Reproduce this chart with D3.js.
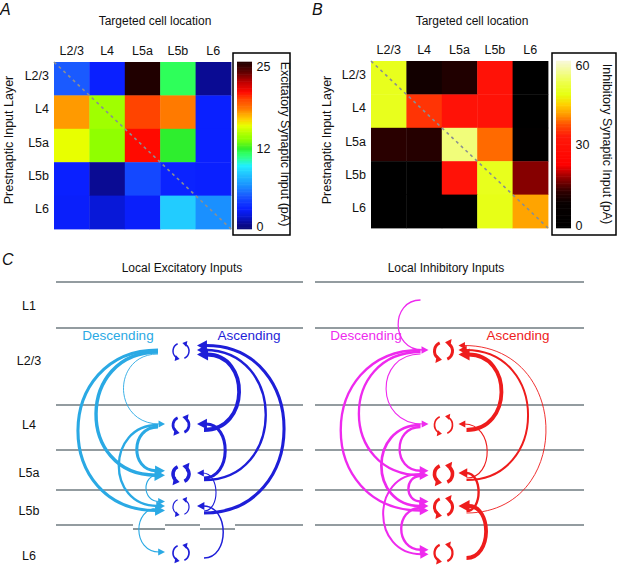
<!DOCTYPE html>
<html><head><meta charset="utf-8">
<script src="https://cdn.jsdelivr.net/npm/d3@7"></script>
<style>
body{margin:0;background:#fff}
svg{display:block}
text{font-family:"Liberation Sans",Arial,Helvetica,sans-serif;fill:#111}
</style>
</head><body>
<svg id="chart" width="618" height="566"></svg>
<script>
// ---------------- DATA ----------------
const layers = ["L2/3", "L4", "L5a", "L5b", "L6"];
// rows = presynaptic input layer, columns = targeted cell location (pA)
const excValues = [
  [5.0, 3.0, 25.0, 11.5, 0.8],
  [17.5, 14.0, 19.5, 18.0, 3.0],
  [15.5, 13.5, 20.5, 12.0, 3.0],
  [3.0, 0.8, 4.5, 3.1, 3.0],
  [2.9, 2.0, 2.9, 8.5, 6.5]
];
const inhValues = [
  [49, 10, 11.5, 30, 0],
  [49, 35, 30, 30, 0],
  [12.5, 12, 55, 38.5, 2],
  [0, 0, 30, 49, 17.5],
  [0, 0, 0, 48.5, 41.5]
];
const excTicks = [0, 12, 25];
const inhTicks = [0, 30, 60];

// Panel C: schematic connections (strength in relative units 1-5)
const cLayers = ["L1", "L2/3", "L4", "L5a", "L5b", "L6"];
const excDescending = [
  {from: "L2/3", to: "L4", s: 1},
  {from: "L2/3", to: "L5a", s: 4.5},
  {from: "L2/3", to: "L5b", s: 4},
  {from: "L4", to: "L5a", s: 4},
  {from: "L4", to: "L5b", s: 3},
  {from: "L5a", to: "L5b", s: 1.3},
  {from: "L5b", to: "L6", s: 1.3}
];
const excAscending = [
  {from: "L4", to: "L2/3", s: 5},
  {from: "L5a", to: "L2/3", s: 3},
  {from: "L5b", to: "L2/3", s: 4},
  {from: "L5a", to: "L4", s: 4},
  {from: "L5b", to: "L5a", s: 1.3},
  {from: "L6", to: "L5b", s: 1.8}
];
const inhDescending = [
  {from: "L1", to: "L2/3", s: 1.5},
  {from: "L2/3", to: "L4", s: 1.3},
  {from: "L2/3", to: "L5a", s: 3},
  {from: "L2/3", to: "L5b", s: 3},
  {from: "L4", to: "L5a", s: 3},
  {from: "L4", to: "L5b", s: 3.5},
  {from: "L5a", to: "L5b", s: 3},
  {from: "L5a", to: "L6", s: 2.5},
  {from: "L5b", to: "L6", s: 3}
];
const inhAscending = [
  {from: "L4", to: "L2/3", s: 5},
  {from: "L5a", to: "L2/3", s: 2.5},
  {from: "L5b", to: "L2/3", s: 1},
  {from: "L5a", to: "L4", s: 1.3},
  {from: "L5b", to: "L5a", s: 3},
  {from: "L6", to: "L5b", s: 5}
];

// ---------------- SETUP ----------------
const svg = d3.select("#chart");
svg.append("rect").attr("width", 618).attr("height", 566).attr("fill", "#fff");

// colour maps
const excStops = [0, 0.03, 0.08, 0.12, 0.18, 0.2, 0.26, 0.34, 0.38, 0.43, 0.46, 0.48, 0.54, 0.56, 0.62, 0.66, 0.70, 0.72, 0.78, 0.82, 0.88, 0.94, 1];
const excCols = ["#0a0a78", "#0a0a90", "#0818d8", "#0a20ff", "#1448ff", "#1a5aff", "#1a90ff", "#22ccff", "#20f0ff", "#2eff8a", "#2eff5a", "#2eee2e", "#90ff00", "#a0ff00", "#e8ff00", "#ffcc00", "#ff9a00", "#ff7a00", "#ff4400", "#ff0a00", "#c00000", "#600000", "#200000"];
const excColor = d3.scaleLinear().domain(excStops.map(t => t * 25)).range(excCols).interpolate(d3.interpolateRgb).clamp(true);

const inhStops = [0, 0.15, 0.22, 0.3, 0.38, 0.55, 0.62, 0.68, 0.74, 0.8, 0.88, 1];
const inhCols = ["#000000", "#080000", "#300000", "#900000", "#ff0000", "#ff1a0a", "#ff5000", "#ff9900", "#ffd000", "#e6ff10", "#eeff50", "#f8f8d8"];
const inhColor = d3.scaleLinear().domain(inhStops.map(t => t * 60)).range(inhCols).interpolate(d3.interpolateRgb).clamp(true);

// ---------------- PANELS A & B ----------------
function heatmap(p) {
  const g = svg.append("g");
  const x = d3.scaleBand().domain(layers).range([p.x0, p.x1]);
  const y = d3.scaleBand().domain(layers).range([p.y0, p.y1]);
  const cells = [];
  p.values.forEach((row, i) => row.forEach((v, j) => cells.push({r: layers[i], c: layers[j], v})));
  g.selectAll("rect.cell").data(cells).join("rect").attr("class", "cell")
    .attr("x", d => x(d.c)).attr("y", d => y(d.r))
    .attr("width", x.bandwidth() + 0.4).attr("height", y.bandwidth() + 0.4)
    .attr("fill", d => p.color(d.v));
  g.append("line").attr("x1", p.x0).attr("y1", p.y0).attr("x2", p.x1).attr("y2", p.y1)
    .attr("stroke", "#8a8f92").attr("stroke-width", 1.6).attr("stroke-dasharray", "3,3.5");
  g.selectAll("text.col").data(layers).join("text").attr("class", "col")
    .attr("x", d => x(d) + x.bandwidth() / 2).attr("y", p.y0 - 7)
    .attr("text-anchor", "middle").attr("font-size", 12.5).text(d => d);
  g.selectAll("text.row").data(layers).join("text").attr("class", "row")
    .attr("x", p.x0 - 5).attr("y", d => y(d) + y.bandwidth() / 2 + 1)
    .attr("text-anchor", "end").attr("font-size", 12.5).text(d => d);
  g.append("text").attr("x", (p.x0 + p.x1) / 2 + 12.5).attr("y", 25)
    .attr("text-anchor", "middle").attr("font-size", 12).text("Targeted cell location");
  g.append("text").attr("transform", `translate(${p.ylabX},140) rotate(-90)`)
    .attr("text-anchor", "middle").attr("font-size", 12.5).text("Prestnaptic Input Layer");
  g.append("text").attr("x", p.letterX).attr("y", 15).attr("font-size", 16)
    .attr("font-style", "italic").text(p.letter);
  // colour bar
  const cb = d3.scaleLinear().domain([0, p.max]).range([p.y1, p.y0]);
  g.append("rect").attr("x", p.boxX0).attr("y", 53).attr("width", p.boxX1 - p.boxX0).attr("height", 182)
    .attr("fill", "none").attr("stroke", "#000").attr("stroke-width", 1.5);
  const steps = d3.range(0, 120).map(i => p.max * (i + 0.5) / 120);
  const sh = (p.y1 - p.y0) / 120;
  g.selectAll("rect.cb").data(steps).join("rect").attr("class", "cb")
    .attr("x", p.cbX).attr("width", 15).attr("y", d => cb(d) - sh / 2 - 0.3).attr("height", sh + 0.6)
    .attr("fill", d => p.color(d));
  g.selectAll("text.tick").data(p.ticks).join("text").attr("class", "tick")
    .attr("x", p.cbX + 19.5)
    .attr("y", d => Math.min(Math.max(cb(d) + 4.3, p.y0 + 8.5), p.y1 + 1.5))
    .attr("font-size", 12.5).text(d => d);
  g.append("text").attr("transform", `translate(${p.cbLabX},${(53 + 235) / 2}) rotate(90)`)
    .attr("text-anchor", "middle").attr("font-size", 12.5).text(p.cbLabel);
}

heatmap({values: excValues, color: excColor, max: 25, ticks: excTicks,
  x0: 54, x1: 231, y0: 62, y1: 229, ylabX: 13, letter: "A", letterX: 0,
  boxX0: 233, boxX1: 290, cbX: 237, cbLabX: 280.5, cbLabel: "Excitatory Synaptic Input (pA)"});
heatmap({values: inhValues, color: inhColor, max: 60, ticks: inhTicks,
  x0: 371, x1: 548, y0: 61, y1: 228, ylabX: 331, letter: "B", letterX: 312,
  boxX0: 552, boxX1: 616, cbX: 556, cbLabX: 603, cbLabel: "Inhibitory Synaptic Input (pA)"});

// ---------------- PANEL C ----------------
const cy = d3.scaleOrdinal().domain(cLayers).range([299, 351, 425, 474, 507, 553]);
const labelY = d3.scaleOrdinal().domain(cLayers).range([305, 360, 424, 472, 510, 555]);
const boundaries = [282, 328, 405, 450, 490, 525];
const widthScale = d3.scaleLinear().domain([1, 5]).range([0.9, 3.8]);
const excDiag = layers.map((l, i) => ({layer: l, v: excValues[i][i]}));
const inhDiag = layers.map((l, i) => ({layer: l, v: inhValues[i][i]}));

svg.append("text").attr("x", 2).attr("y", 265).attr("font-size", 16).attr("font-style", "italic").text("C");

function panelC(p) {
  const g = svg.append("g");
  boundaries.forEach((b, i) => {
    if (p.jag && i === boundaries.length - 1) {
      const segs = [[p.x0, 133, 0], [133, 165, 4], [165, 200, 0], [200, 235, 4], [235, p.x1, 0]];
      g.selectAll("line.jag").data(segs).join("line").attr("class", "jag")
        .attr("x1", d => d[0]).attr("x2", d => d[1]).attr("y1", d => b + d[2]).attr("y2", d => b + d[2])
        .attr("stroke", "#6f7b80").attr("stroke-width", 1.6);
    } else {
      g.append("line").attr("x1", p.x0).attr("x2", p.x1).attr("y1", b).attr("y2", b)
        .attr("stroke", "#6f7b80").attr("stroke-width", 1.6);
    }
  });
  g.append("text").attr("x", p.titleX).attr("y", 272).attr("text-anchor", "middle")
    .attr("font-size", 12).text(p.title);
  if (p.layerLabels) {
    g.selectAll("text.ll").data(cLayers).join("text").attr("class", "ll")
      .attr("x", 29).attr("y", d => labelY(d) + 4.5).attr("text-anchor", "middle")
      .attr("font-size", 12.5).text(d => d);
  }
  g.append("text").attr("x", p.descLabelX).attr("y", 340).attr("text-anchor", "middle")
    .attr("font-size", 13.5).style("fill", p.descColor).text("Descending");
  g.append("text").attr("x", p.ascLabelX).attr("y", 340).attr("text-anchor", "middle")
    .attr("font-size", 13.5).style("fill", p.ascColor).text("Ascending");

  const cx = p.cx;
  function conns(list, desc, color) {
    const span = d => Math.abs(cy(d.to) - cy(d.from));
    const byT = d3.group(list, d => d.to), byS = d3.group(list, d => d.from);
    const side = desc ? -1 : 1;
    list.forEach(d => {
      const tg = byT.get(d.to).slice().sort((a, b) => span(a) - span(b));
      const k = tg.indexOf(d), n = tg.length;
      const sg = byS.get(d.from).slice().sort((a, b) => span(a) - span(b));
      const ks = sg.indexOf(d), ns = sg.length;
      const w = widthScale(d.s);
      const L = 5 + 1.6 * w, Hh = 2.6 + 0.9 * w;
      const ye = cy(d.to) - 1 + (desc ? 1 : -1) * (k - (n - 1) / 2) * 4.5;
      const ys = cy(d.from) + (desc ? 1 : 5) + (desc ? -1 : 1) * (ks - (ns - 1) / 2) * 2;
      const xs = cx + side * p.startOff;
      const tip = cx + side * p.tipOff;
      const xe = desc ? tip - L + 1 : tip + L - 1;
      const e = Math.max(10, 0.55 * span(d) - 6);
      const xb = xs + side * e / 0.75;
      const path = d3.path();
      path.moveTo(xs, ys);
      path.bezierCurveTo(xb, ys, xb, ye, xe, ye);
      g.append("path").attr("d", path.toString()).attr("fill", "none")
        .attr("stroke", color).attr("stroke-width", w);
      const bx = desc ? tip - L : tip + L;
      g.append("polygon").attr("points", [[tip, ye], [bx, ye - Hh], [bx, ye + Hh]].map(q => q.join(",")).join(" "))
        .attr("fill", color);
    });
  }
  conns(p.desc, true, p.descColor);
  conns(p.asc, false, p.ascColor);

  // self loops (width from the heat-map diagonal)
  const ws = d3.scaleLinear().domain(p.selfDomain).range([1.2, 3.6]).clamp(true);
  const deg = Math.PI / 180;
  p.diag.forEach(d => {
    const w = ws(d.v), r = p.r, c0 = cy(d.layer);
    const L = 3.2 + 0.9 * w, Hh = 2 + 0.7 * w;
    [[245, 100], [65, -80]].forEach(([a0, aTip]) => {
      const t = aTip * deg;
      const aEnd = t + (L * 0.85) / r;
      const pth = d3.path();
      pth.arc(cx, c0, r, a0 * deg, aEnd, true);
      g.append("path").attr("d", pth.toString()).attr("fill", "none")
        .attr("stroke", p.selfColor).attr("stroke-width", w);
      // tangent direction for decreasing angle
      const ux = Math.sin(t), uy = -Math.cos(t), nx = -uy, ny = ux;
      const tx = cx + r * Math.cos(t), ty = c0 + r * Math.sin(t);
      const bx = tx - ux * L, by = ty - uy * L;
      g.append("polygon").attr("points",
        [[tx, ty], [bx + nx * Hh, by + ny * Hh], [bx - nx * Hh, by - ny * Hh]].map(q => q.join(",")).join(" "))
        .attr("fill", p.selfColor);
    });
  });
}

panelC({x0: 56, x1: 303, cx: 181, r: 8, tipOff: 16, startOff: 23, jag: true, layerLabels: true,
  title: "Local Excitatory Inputs", titleX: 182,
  desc: excDescending, asc: excAscending,
  descColor: "#2aa9e4", ascColor: "#1e1ed8", selfColor: "#1e1ed8",
  descLabelX: 118, ascLabelX: 249, diag: excDiag, selfDomain: [3, 21]});
panelC({x0: 315, x1: 584, cx: 443.5, r: 9, tipOff: 15, startOff: 23, jag: false, layerLabels: false,
  title: "Local Inhibitory Inputs", titleX: 446,
  desc: inhDescending, asc: inhAscending,
  descColor: "#ee2aee", ascColor: "#ee1c1c", selfColor: "#ee1c1c",
  descLabelX: 366, ascLabelX: 518, diag: inhDiag, selfDomain: [30, 55]});
</script>
</body></html>
